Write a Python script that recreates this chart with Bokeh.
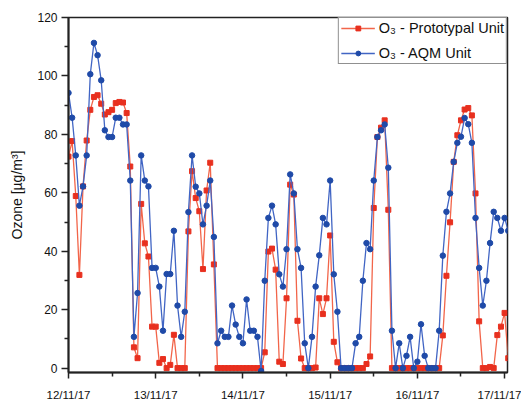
from bokeh.plotting import figure
from bokeh.models import Range1d, FixedTicker
from bokeh.embed import file_html
from bokeh.resources import INLINE

# Hourly ozone readings starting 12/11/17 00:00 (hours since start)
aqm = [94.2, 85.7, 72.8, 55.6, 62.2, 72.8, 100.6, 111.3, 107.1, 98.5,
       81.4, 79.1, 79.1, 85.7, 85.7, 83.4, 83.4, 64.2, 10.7, 25.7,
       72.8, 64.2, 62.2, 34.3, 34.3, 27.9, 12.8, 32.2, 32.2, 47.0,
       21.4, 10.7, 19.3, 53.4, 72.8, 62.1, 59.8, 49.2, 55.6, 64.2,
       44.9, 8.5, 12.8, 10.7, 10.7, 21.4, 14.9, 10.7, 8.5, 23.5,
       12.8, 12.8, 10.7, -1.0, 29.9, 51.4, 55.6, 49.2, 32.1, 27.9,
       40.7, 66.3, 59.8, 40.7, 34.3, 8.5, 0.0, 10.7, 27.9, 38.6,
       51.4, 49.2, 64.2, 32.1, 19.3, 0.0, 0.0, 0.0, 0.0, 8.5,
       10.7, 29.9, 42.8, 40.7, 64.2, 79.1, 81.4, 83.4, 68.6, 12.8,
       0.0, 8.5, 0.0, 4.2, 10.7, 0.0, 2.2, 15.0, 4.2, 0.0,
       0.0, 0.0, 12.8, 38.5, 53.5, 59.8, 70.6, 77.1, 79.2, 85.6,
       83.5, 77.1, 51.4, 34.3, 21.4, 29.9, 42.8, 53.5, 51.4, 47.0,
       51.4, 47.0]

proto = [72.4, 77.7, 58.9, 31.9, 62.2, 77.9, 88.4, 92.8, 93.4, 90.5,
         86.8, 87.6, 88.4, 90.7, 91.1, 90.9, 87.3, 69.0, 7.1, 3.4,
         56.2, 42.7, 38.2, 14.2, 14.2, 1.8, 3.1, 0.0, 1.1, 11.4,
         0.0, 0.0, 0.0, 46.8, 67.4, 58.2, 53.7, 33.9, 60.8, 70.3,
         35.5, 0.0, 0.0, 0.0, 0.0, 0.0, 0.0, 0.0, 0.0, 0.0,
         0.0, 0.0, 0.0, 0.0, 5.4, 39.9, 40.9, 33.7, 2.2, 1.4,
         23.9, 62.8, 59.4, 16.2, 3.3, 0.0, 0.0, 0.0, 0.2, 23.9,
         18.5, 23.9, 45.4, 9.0, 2.0, 0.0, 0.0, 0.0, 0.0, 0.0,
         0.0, 0.0, 1.4, 4.0, 54.8, 79.1, 82.3, 84.8, 54.2, 0.0,
         0.0, 0.0, 0.0, 0.0, 0.0, 0.0, 0.0, 0.0, 0.0, 0.0,
         0.0, 0.0, 0.0, 11.2, 31.6, 49.9, 70.6, 79.7, 84.8, 88.5,
         89.0, 86.5, 59.8, 16.0, 0.0, 0.0, 0.4, 0.0, 11.3, 14.2,
         18.9, 3.4]

hours = list(range(len(aqm)))
tick_labels = ["12/11/17", "13/11/17", "14/11/17", "15/11/17", "16/11/17", "17/11/17"]
tick_hours = [24 * i for i in range(len(tick_labels))]
minor_hours = [24 * i + 12 for i in range(len(tick_labels) - 1)]

proto_label = "O\u2083 - Prototypal Unit"
aqm_label = "O\u2083 - AQM Unit"

FONT = "Liberation Sans"

p = figure(width=521, height=403, output_backend="svg", toolbar_location=None,
           x_range=Range1d(0, 120.8), y_range=Range1d(-1.5, 120),
           min_border_left=68, min_border_right=14, min_border_top=17,
           min_border_bottom=31, background_fill_color="white",
           border_fill_color="white")

p.line(hours, proto, line_color="#f2654a", line_width=1.3, legend_label=proto_label)
p.scatter(hours, proto, marker="square", size=5, fill_color="#e8301f",
          line_color="#e8301f", legend_label=proto_label)
p.line(hours, aqm, line_color="#4165c4", line_width=1.3, legend_label=aqm_label)
p.scatter(hours, aqm, marker="circle", size=5.5, fill_color="#1f4aa8",
          line_color="#1f4aa8", legend_label=aqm_label)

p.xgrid.visible = False
p.ygrid.visible = False
p.outline_line_color = "#222222"
p.outline_line_width = 1.5

p.xaxis.ticker = FixedTicker(ticks=tick_hours, minor_ticks=minor_hours)
p.xaxis.major_label_overrides = {h: lab for h, lab in zip(tick_hours, tick_labels)}
p.yaxis.ticker = FixedTicker(ticks=list(range(0, 121, 20)),
                             minor_ticks=list(range(10, 120, 20)))

for ax in (p.xaxis[0], p.yaxis[0]):
    ax.axis_line_width = 2
    ax.axis_line_color = "#222222"
    ax.major_tick_line_color = "#222222"
    ax.minor_tick_line_color = "#222222"
    ax.major_tick_line_width = 1.5
    ax.minor_tick_line_width = 1.5
    ax.major_tick_in = 0
    ax.minor_tick_in = 0
    ax.major_label_text_font = FONT
    ax.major_label_text_color = "#111111"
    ax.axis_label_text_font = FONT
    ax.axis_label_text_font_style = "normal"
    ax.axis_label_text_color = "#111111"

p.xaxis.major_tick_out = 6
p.xaxis.minor_tick_out = 4
p.xaxis.major_label_text_font_size = "11.5px"
p.xaxis.major_label_standoff = 10

p.yaxis.major_tick_out = 7
p.yaxis.minor_tick_out = 4
p.yaxis.major_label_text_font_size = "12px"
p.yaxis.major_label_standoff = 4
p.yaxis.axis_label = "Ozone [\u00b5g/m\u00b3]"
p.yaxis.axis_label_text_font_size = "14px"
p.yaxis.axis_label_standoff = 9

lg = p.legend[0]
lg.location = "top_right"
lg.margin = 0
lg.padding = 2
lg.spacing = 9
lg.glyph_width = 34
lg.glyph_height = 12
lg.label_height = 12
lg.label_standoff = 4
lg.border_line_color = "#222222"
lg.border_line_width = 1
lg.background_fill_alpha = 1
lg.label_text_font = FONT
lg.label_text_font_size = "14.5px"
lg.label_text_color = "#111111"

open("out.html", "w").write(file_html(p, INLINE))
